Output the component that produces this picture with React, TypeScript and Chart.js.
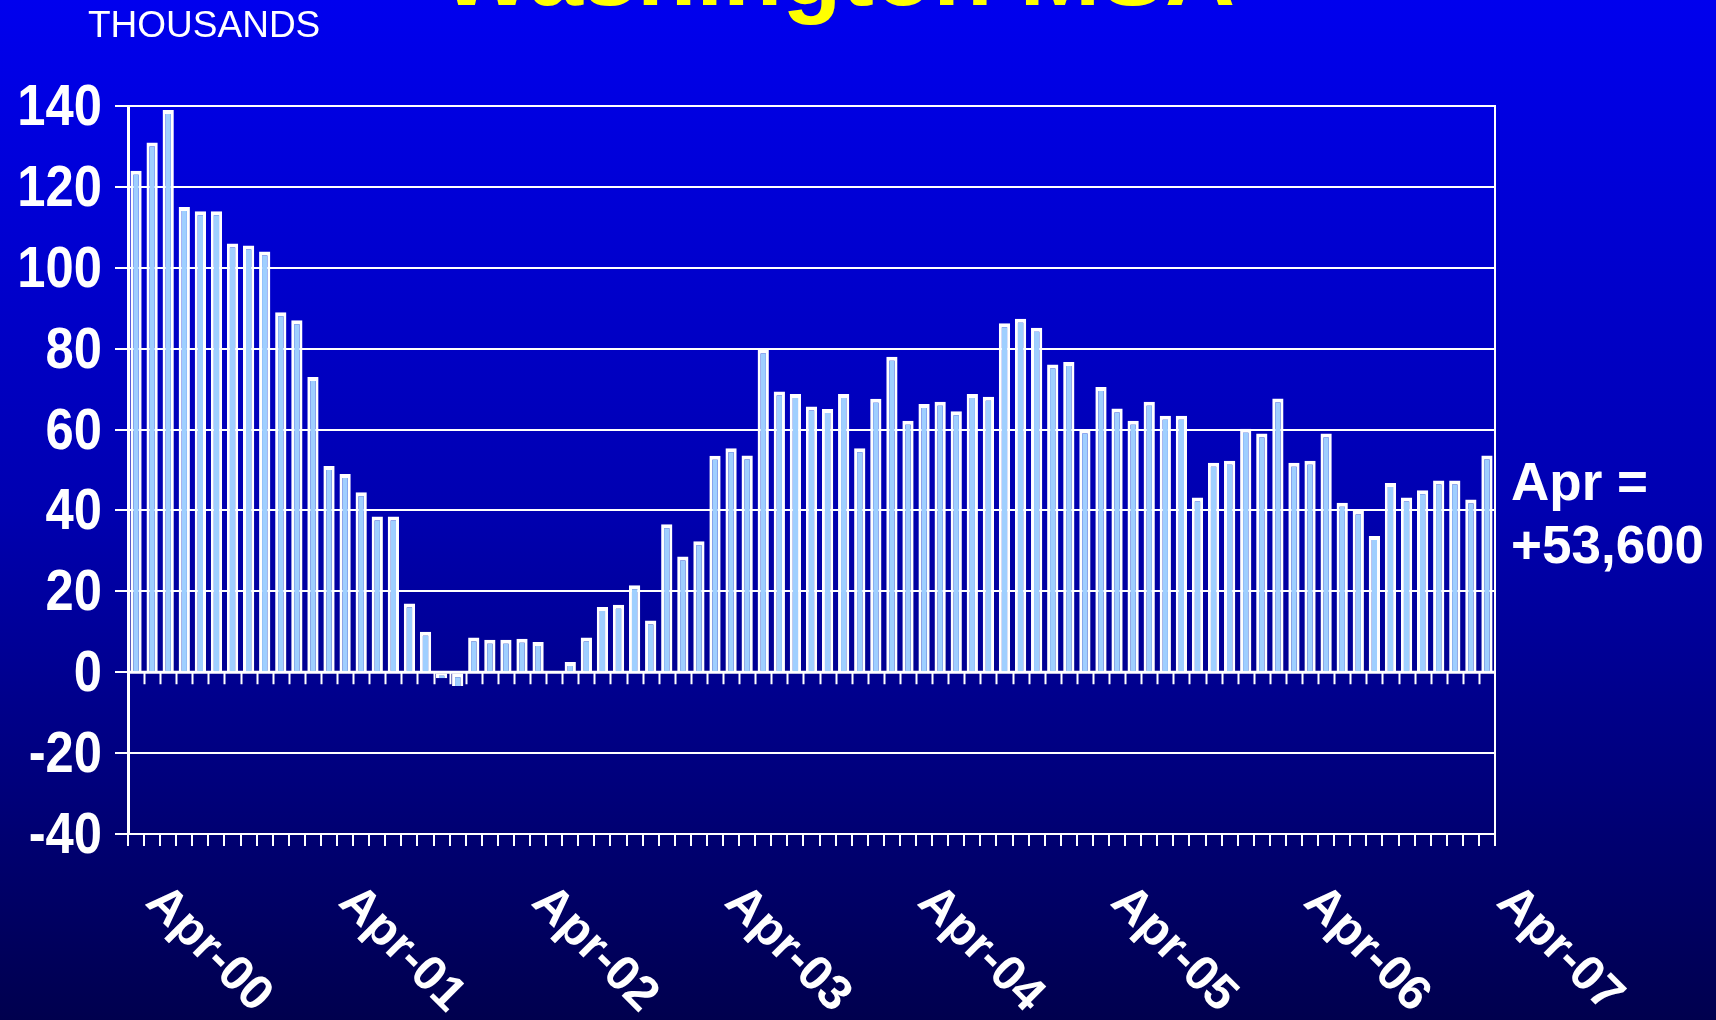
import React, { useEffect, useRef } from 'react';
import { Chart, registerables } from 'chart.js';

Chart.register(...registerables);

const FONT = '"Liberation Sans", Arial, sans-serif';

const MONTH_NAMES = ['Apr', 'May', 'Jun', 'Jul', 'Aug', 'Sep', 'Oct', 'Nov', 'Dec', 'Jan', 'Feb', 'Mar'];
const START_YEAR = 2000;
const MONTH_COUNT = 85;

const categories: string[] = [];
for (let i = 0; i < MONTH_COUNT; i++) {
  const name = MONTH_NAMES[i % 12];
  const yr = START_YEAR + Math.floor((i + 3) / 12);
  categories.push(name + '-' + String(yr % 100).padStart(2, '0'));
}

// Over-the-year job change, thousands
const jobChange = [
  124, 131, 139, 115, 114, 114, 106, 105.5, 104, 89,
  87, 73, 51, 49, 44.5, 38.5, 38.5, 17, 10, -1.5,
  -3.4, 8.6, 8, 8, 8.3, 7.5, 0, 2.5, 8.6, 16.1,
  16.7, 21.5, 12.8, 36.6, 28.6, 32.4, 53.5, 55.4, 53.6, 79.8,
  69.4, 68.8, 65.7, 65.1, 68.8, 55.4, 67.6, 78, 62.2, 66.3,
  66.9, 64.5, 68.8, 68.1, 86.3, 87.4, 85.2, 76.1, 76.7, 60,
  70.5, 65.2, 62.2, 66.9, 63.4, 63.4, 43.2, 51.8, 52.3, 60.2,
  59, 67.7, 51.8, 52.3, 59, 41.9, 40, 33.7, 46.8, 43.2,
  45, 47.4, 47.4, 42.7, 53.6,
];

const xTickLabels = ['Apr-00', 'Apr-01', 'Apr-02', 'Apr-03', 'Apr-04', 'Apr-05', 'Apr-06', 'Apr-07'];
const Y_MIN = -40;
const Y_MAX = 140;
const Y_STEP = 20;

const TITLE = 'Washington MSA';
const UNIT_LABEL = 'THOUSANDS';
const NOTE_LINES = ['Apr =', '+53,600'];

const overlayPlugin = {
  id: 'overlay',
  beforeDatasetsDraw(chart: any) {
    const { ctx, chartArea, scales } = chart;
    const xs = scales.x;
    const ys = scales.y;
    const y0 = ys.getPixelForValue(0);
    const step = xs.getPixelForValue(1) - xs.getPixelForValue(0);
    ctx.save();
    ctx.strokeStyle = '#ffffff';
    ctx.lineWidth = 2;
    ctx.beginPath();
    for (let i = 0; i <= categories.length; i++) {
      const px = Math.round(xs.getPixelForValue(i) - step / 2) + 0.5;
      if (px < chartArea.left + 2 || px > chartArea.right - 1) continue;
      ctx.moveTo(px, y0);
      ctx.lineTo(px, y0 + 12);
    }
    ctx.stroke();
    ctx.lineWidth = 3;
    ctx.beginPath();
    ctx.moveTo(chartArea.left, y0);
    ctx.lineTo(chartArea.right, y0);
    ctx.stroke();
    ctx.restore();
  },
  afterDraw(chart: any) {
    const { ctx, chartArea, scales } = chart;
    const xs = scales.x;
    const ys = scales.y;
    ctx.save();
    // frame
    ctx.strokeStyle = '#ffffff';
    ctx.lineWidth = 2;
    ctx.strokeRect(chartArea.left, chartArea.top, chartArea.right - chartArea.left, chartArea.bottom - chartArea.top);

    // y labels (condensed bold)
    ctx.fillStyle = '#ffffff';
    ctx.font = 'bold 57px ' + FONT;
    ctx.textAlign = 'right';
    ctx.textBaseline = 'alphabetic';
    ys.ticks.forEach((t: any) => {
      const py = ys.getPixelForValue(t.value);
      ctx.save();
      ctx.translate(102, py + 19);
      ctx.scale(0.89, 1);
      ctx.fillText(String(t.value), 0, 0);
      ctx.restore();
    });

    // rotated x labels
    ctx.font = 'bold 49px ' + FONT;
    ctx.textAlign = 'left';
    xTickLabels.forEach((lab) => {
      const idx = categories.indexOf(lab);
      if (idx < 0) return;
      const px = xs.getPixelForValue(idx);
      ctx.save();
      ctx.translate(px + 8, chartArea.bottom + 70);
      ctx.rotate(Math.PI / 4);
      ctx.fillText(lab, 0, 0);
      ctx.restore();
    });

    // title (cut off at top)
    ctx.fillStyle = '#ffff00';
    ctx.font = 'bold 97px ' + FONT;
    ctx.textAlign = 'center';
    ctx.fillText(TITLE, 838, 5);

    // unit label
    ctx.fillStyle = '#ffffff';
    ctx.font = '37px ' + FONT;
    ctx.textAlign = 'left';
    ctx.fillText(UNIT_LABEL, 88, 37);

    // note
    ctx.font = 'bold 53px ' + FONT;
    ctx.fillText(NOTE_LINES[0], 1511, 500);
    ctx.fillText(NOTE_LINES[1], 1511, 563);
    ctx.restore();
  },
};

export default function App() {
  const ref = useRef<HTMLCanvasElement | null>(null);

  useEffect(() => {
    const prevMargin = document.body.style.margin;
    document.body.style.margin = '0';
    if (!ref.current) return;
    const chart = new Chart(ref.current, {
      type: 'bar',
      data: {
        labels: categories,
        datasets: [
          {
            data: jobChange,
            backgroundColor: '#9fcfff',
            borderColor: '#ffffff',
            borderWidth: { left: 3, right: 3, top: 4, bottom: 0 },
            borderSkipped: false,
            barPercentage: 0.7,
            categoryPercentage: 1,
          },
        ],
      },
      options: {
        animation: false,
        responsive: false,
        maintainAspectRatio: false,
        devicePixelRatio: 1,
        layout: { padding: { left: 0, top: 106, right: 221, bottom: 174 } },
        plugins: {
          legend: { display: false },
          tooltip: { enabled: false },
          title: { display: false },
        },
        scales: {
          x: {
            offset: true,
            grid: {
              display: true,
              offset: true,
              drawOnChartArea: false,
              drawTicks: true,
              tickLength: 12,
              color: '#ffffff',
              lineWidth: 2,
            },
            border: { display: false },
            ticks: { display: false, autoSkip: false },
            afterFit: (s: any) => {
              s.height = 12;
            },
          },
          y: {
            min: Y_MIN,
            max: Y_MAX,
            ticks: {
              stepSize: Y_STEP,
              display: false,
            },
            grid: {
              color: '#ffffff',
              lineWidth: 2,
              tickLength: 13,
              drawTicks: true,
            },
            border: { display: true, color: '#ffffff', width: 3 },
            afterFit: (s: any) => {
              s.width = 128;
            },
          },
        },
      },
      plugins: [overlayPlugin],
    } as any);
    return () => {
      chart.destroy();
      document.body.style.margin = prevMargin;
    };
  }, []);

  return (
    <div
      style={{
        position: 'fixed',
        left: 0,
        top: 0,
        width: 1716,
        height: 1020,
        overflow: 'hidden',
        background: 'linear-gradient(to bottom, #0000ee 0%, #0000b0 50%, #00004e 100%)',
      }}
    >
      <canvas ref={ref} width={1716} height={1020} style={{ display: 'block', width: 1716, height: 1020 }} />
    </div>
  );
}
